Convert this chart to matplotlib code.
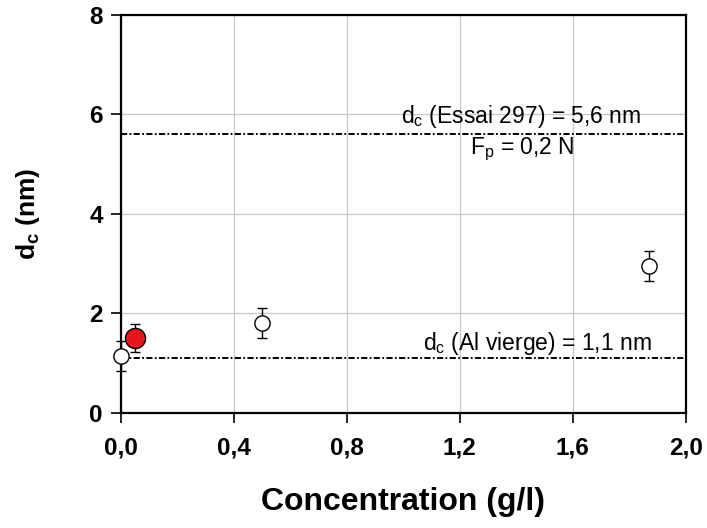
import numpy as np
import matplotlib
matplotlib.use("Agg")
import matplotlib.pyplot as plt

plt.rcParams['font.family'] = ['Liberation Sans', 'DejaVu Sans']
plt.rcParams['mathtext.fontset'] = 'custom'
plt.rcParams['mathtext.rm'] = 'Liberation Sans'
plt.rcParams['mathtext.bf'] = 'Liberation Sans:bold'

# measured points (open symbols) and the reference test (red)
conc = [0.0, 0.5, 1.87]
dc = [1.14, 1.80, 2.96]
dc_err = [0.30, 0.30, 0.30]

conc_ref = [0.05]
dc_ref = [1.51]
dc_ref_err = [0.28]

dc_essai = 5.6
dc_vierge = 1.1

xticks = [0.0, 0.4, 0.8, 1.2, 1.6, 2.0]
xticklabels = ['0,0', '0,4', '0,8', '1,2', '1,6', '2,0']
yticks = [0, 2, 4, 6, 8]

fig = plt.figure(figsize=(7.07, 5.28), dpi=100)
ax = fig.add_axes([0.171, 0.218, 0.799, 0.754])

ax.set_xlim(0, 2.0)
ax.set_ylim(0, 8)
ax.set_xticks(xticks)
ax.set_xticklabels(xticklabels)
ax.set_yticks(yticks)
ax.grid(True, color='#c8c8c8', linewidth=0.9)
ax.set_axisbelow(True)

for s in ax.spines.values():
    s.set_linewidth(1.6)
ax.tick_params(direction='out', length=7, width=1.2, labelsize=17.5)
ax.tick_params(axis='x', pad=10)
ax.tick_params(axis='y', pad=6)
for lab in ax.get_xticklabels() + ax.get_yticklabels():
    lab.set_fontweight('bold')

dashdot = (0, (3.2, 1.2, 0.9, 1.2))
ax.axhline(dc_essai, color='black', lw=1.4, linestyle=dashdot)
ax.axhline(dc_vierge, color='black', lw=1.4, linestyle=dashdot)

ax.text(1.416, dc_essai + 0.36, r'd$_\mathrm{c}$ (Essai 297) = 5,6 nm',
        ha='center', va='center', fontsize=16.5)
ax.text(1.42, dc_essai - 0.30, r'F$_\mathrm{p}$ = 0,2 N',
        ha='center', va='center', fontsize=16.5)
ax.text(1.476, dc_vierge + 0.30, r'd$_\mathrm{c}$ (Al vierge) = 1,1 nm',
        ha='center', va='center', fontsize=16.5)

ax.errorbar(conc, dc, yerr=dc_err, fmt='o', ms=11, mfc='white', mec='black',
            mew=1.0, ecolor='black', elinewidth=1.0, capsize=3.3, capthick=1.0,
            clip_on=False, zorder=5)
ax.errorbar(conc_ref, dc_ref, yerr=dc_ref_err, fmt='o', ms=14.5, mfc='#e8141c',
            mec='black', mew=1.0, ecolor='black', elinewidth=1.0, capsize=3.3,
            capthick=1.0, clip_on=False, zorder=6)

ax.set_xlabel('Concentration (g/l)', fontsize=23, fontweight='bold', labelpad=20)
ax.set_ylabel(r'$\mathbf{d_c}$ (nm)', fontsize=19, fontweight='bold', labelpad=34)

fig.savefig('out.png', dpi=100)
